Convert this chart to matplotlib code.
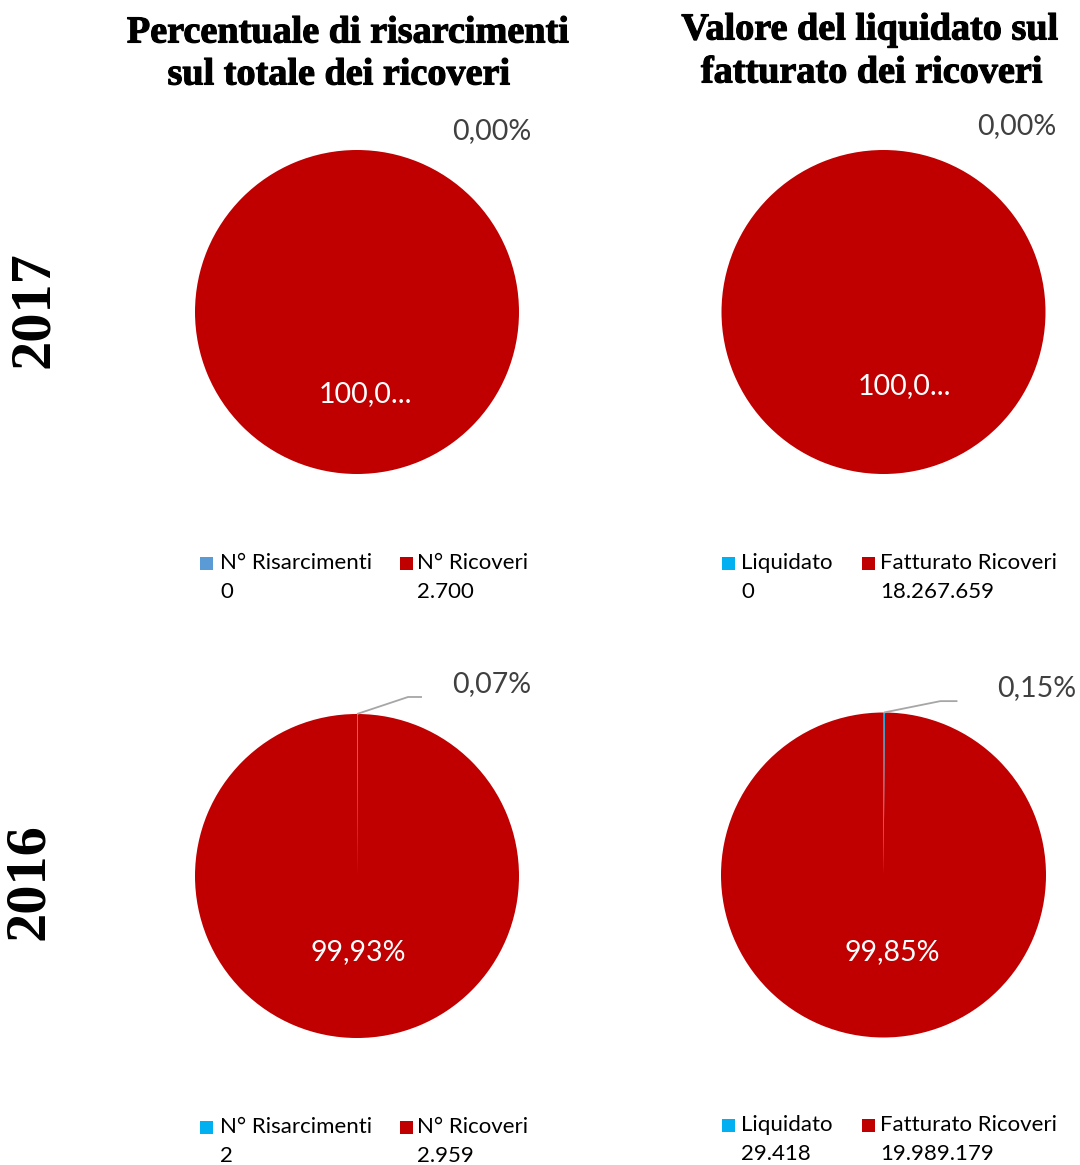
import matplotlib
matplotlib.use("Agg")
import matplotlib.pyplot as plt
from matplotlib.patches import Rectangle
import matplotlib.patheffects as pe

W, H = 1080, 1165

# ---- data ----
years = ["2017", "2016"]
title_left = ["Percentuale di risarcimenti", "sul totale dei ricoveri"]
title_right = ["Valore del liquidato sul", "fatturato dei ricoveri"]
labels_left = ["N° Risarcimenti", "N° Ricoveri"]
labels_right = ["Liquidato", "Fatturato Ricoveri"]
risarcimenti = [0, 2]
ricoveri = [2700, 2959]
liquidato = [0, 29418]
fatturato = [18267659, 19989179]

RED = "#C00000"
BLUE_A = "#5B9BD5"
BLUE_B = "#00B0F0"
GREY_TXT = "#404040"
SANS = ["Lato", "DejaVu Sans"]
SERIF = ["Liberation Serif", "DejaVu Serif"]

fig = plt.figure(figsize=(W / 100, H / 100), dpi=100)
fig.patch.set_facecolor("white")


def fx(x):
    return x / W


def fy(y):
    return 1 - y / H


def fmt_pct(v, total):
    s = f"{v / total * 100:.2f}".replace(".", ",") + "%"
    if s.startswith("100"):
        s = "100,0..."
    return s


def fmt_num(v):
    return f"{v:,}".replace(",", ".")


# pie geometry (pixel centres and radius) and label placements (data units)
specs = [
    (357, 312, 162, [risarcimenti[0], ricoveri[0]], labels_left, [BLUE_A, RED],
     (0.833, 1.117), (0.05, -0.506), None, (200, 563)),
    (883.5, 312, 162, [liquidato[0], fatturato[0]], labels_right, [BLUE_B, RED],
     (0.82, 1.15), (0.13, -0.457), None, (722, 563)),
    (357, 876, 162, [risarcimenti[1], ricoveri[1]], labels_left, [BLUE_B, RED],
     (0.833, 1.185), (0.006, -0.469), [(0.0, 1.0), (0.315, 1.105), (0.401, 1.105)], (200, 1127)),
    (883.5, 875, 162.5, [liquidato[1], fatturato[1]], labels_right, [BLUE_B, RED],
     (0.94, 1.15), (0.055, -0.475), [(0.003, 1.0), (0.35, 1.07), (0.455, 1.07)], (722, 1125)),
]

legend_offsets = {0: [(0, 20), (200, 217)], 1: [(0, 19), (140, 158)]}

for i, (cx, cy, R, vals, names, cols, spos, bpos, leader, lpos) in enumerate(specs):
    ax = fig.add_axes([fx(cx - R), fy(cy + R), 2 * R / W, 2 * R / H])
    ax.pie(vals, colors=cols, startangle=90, counterclock=False, radius=1,
           wedgeprops=dict(linewidth=0))
    ax.set_xlim(-1, 1)
    ax.set_ylim(-1, 1)
    ax.set_aspect("auto")
    ax.axis("off")
    total = sum(vals)
    ax.text(spos[0], spos[1], fmt_pct(vals[0], total), ha="center", va="center",
            fontsize=20.5, color=GREY_TXT, family=SANS, clip_on=False)
    ax.text(bpos[0], bpos[1], fmt_pct(vals[1], total), ha="center", va="center",
            fontsize=20.5, color="white", family=SANS, clip_on=False)
    if leader is not None:
        xs = [p[0] for p in leader]
        ys = [p[1] for p in leader]
        ax.plot(xs, ys, color="#A6A6A6", lw=1.3, clip_on=False, solid_capstyle="butt")

    # legend
    col = i % 2
    x0, y0 = lpos
    for k in range(2):
        mx, tx = legend_offsets[col][k]
        fig.patches.append(Rectangle((fx(x0 + mx), fy(y0 + 6.5)), 13 / W, 13 / H,
                                     transform=fig.transFigure, color=cols[k],
                                     linewidth=0))
        fig.text(fx(x0 + tx), fy(y0), names[k], ha="left", va="center",
                 fontsize=16, color="black", family=SANS)
        fig.text(fx(x0 + tx), fy(y0 + 29), fmt_num(vals[k]), ha="left", va="center",
                 fontsize=16, color="black", family=SANS)

# titles
stroke = [pe.withStroke(linewidth=0.8, foreground="black")]
for lines, xs, ys in [(title_left, (348, 339), (33, 75)),
                      (title_right, (870, 872), (30, 73))]:
    for line, x, y in zip(lines, xs, ys):
        fig.text(fx(x), fy(y), line, ha="center", va="center", fontsize=27.5,
                 fontweight="bold", family=SERIF, path_effects=stroke)

# year labels
fig.text(fx(34), fy(310), years[0], ha="center", va="center", rotation=90,
         fontsize=42, fontweight="bold", family=SERIF)
fig.text(fx(29), fy(882), years[1], ha="center", va="center", rotation=90,
         fontsize=42, fontweight="bold", family=SERIF)

fig.savefig("out.png", dpi=100, facecolor="white")
